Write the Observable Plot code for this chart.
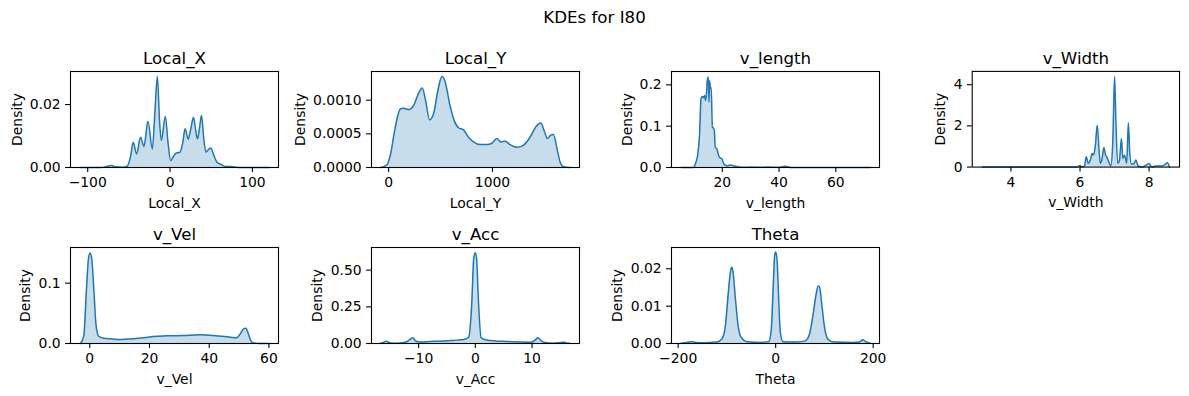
<!DOCTYPE html>
<html><head><meta charset="utf-8">
<script src="https://cdn.jsdelivr.net/npm/d3@7"></script>
<script src="https://cdn.jsdelivr.net/npm/@observablehq/plot@0.6"></script>
<style>
body{margin:0;background:#fff;}
#root{position:relative;width:1189px;height:396px;overflow:hidden;font-family:"DejaVu Sans",sans-serif;}
#suptitle{position:absolute;left:0;width:1189px;top:8px;text-align:center;font-size:16.67px;line-height:20px;color:#000;}
.panel{position:absolute;}
.panel svg{overflow:visible;}
</style></head><body>
<div id="root"><div id="suptitle">KDEs for I80</div></div>
<script>
// ---- data (x, density) ----
const localX = [[-109.4,0],[-85,0],[-78,0.0002],[-72,0.0006],[-66,0.0002],[-58,0.0001],[-52,0.0004],[-48,0.0035],[-44.7,0.0080],[-40.6,0.0043],[-35.8,0.0096],[-31.7,0.0067],[-26.8,0.0147],[-21.5,0.0059],[-18.5,0.0170],[-15.4,0.0289],[-12.8,0.0150],[-10.6,0.0086],[-5.7,0.0162],[-2.5,0.0080],[0.8,0.0022],[4,0.0035],[7,0.0045],[12.2,0.0049],[15.5,0.0080],[18.3,0.0123],[22,0.0090],[25,0.0120],[28.5,0.0160],[31,0.0120],[33.3,0.0091],[36,0.0130],[38.2,0.0165],[41,0.0090],[43.5,0.0049],[47,0.0058],[49.6,0.0062],[53,0.0040],[57,0.0017],[61.8,0.0010],[67,0.0003],[74,0.0003],[80,0.0001],[90,0],[120.7,0]];
const localY = [[-74,0],[-16,0.00004],[16,0.00018],[64,0.0006],[112,0.00087],[144,0.00088],[192,0.00086],[240,0.00092],[288,0.0011],[324,0.00118],[353,0.00102],[394,0.00071],[433,0.0008],[474,0.00114],[513,0.00135],[545,0.00127],[587,0.00095],[631,0.0007],[673,0.00059],[721,0.00056],[769,0.00045],[817,0.00038],[881,0.00034],[946,0.00034],[994,0.00036],[1042,0.00043],[1080,0.00038],[1122,0.00039],[1170,0.00034],[1234,0.0003],[1298,0.00033],[1362,0.00045],[1420,0.00061],[1465,0.00066],[1497,0.00055],[1529,0.00043],[1561,0.00048],[1587,0.00049],[1619,0.0003],[1651,0.00008],[1683,0.00001],[1747,0]];
const vLength = [[5.57,0],[9.9,0],[10.5,0.009],[11.3,0.029],[12.0,0.081],[12.5,0.166],[13.0,0.172],[13.4,0.169],[13.8,0.174],[14.1,0.162],[14.5,0.185],[14.7,0.21],[15.1,0.219],[15.3,0.158],[15.5,0.21],[15.9,0.19],[16.1,0.193],[16.5,0.098],[16.8,0.096],[17.2,0.09],[17.5,0.049],[18.1,0.045],[18.7,0.029],[19.3,0.023],[19.9,0.021],[20.5,0.009],[21.6,0.004],[22.8,0.006],[24,0.004],[25.2,0.0025],[26.3,0.001],[28,0.0005],[30,0.001],[33,0.0008],[36,0.001],[40,0.0005],[42.2,0.003],[44,0.0003],[50,0.0001],[72.1,0]];
const vWidth = [[3.17,0],[5.9,0],[6.0,0.08],[6.06,0],[6.13,0.05],[6.18,0.5],[6.24,0.18],[6.30,0.34],[6.35,0.66],[6.39,0.58],[6.44,0.98],[6.50,2.03],[6.55,0.82],[6.59,0.18],[6.64,0.42],[6.69,0.95],[6.74,0.58],[6.78,0.47],[6.83,0.26],[6.89,0.05],[6.95,1.31],[7.0,4.40],[7.04,2.11],[7.09,0.18],[7.14,0.31],[7.20,1.39],[7.24,0.42],[7.29,0.58],[7.35,0.18],[7.40,2.15],[7.44,0.66],[7.49,0.15],[7.55,0.15],[7.62,0.34],[7.68,0.05],[7.81,0],[8.0,0.16],[8.08,0],[8.19,0.05],[8.38,0.05],[8.48,0.15],[8.53,0.21],[8.59,0]];
const vVel = [[-3.1,0],[-2.0,0.013],[-1.1,0.091],[-0.45,0.14],[0.1,0.150],[0.67,0.14],[1.34,0.091],[2.1,0.030],[3.0,0.012],[4.7,0.0088],[6.9,0.0077],[10.3,0.0066],[14.7,0.0077],[18.1,0.0094],[21.4,0.0116],[25.8,0.0127],[31.4,0.0133],[37,0.0144],[41.4,0.0133],[47,0.0105],[49.2,0.0094],[50.4,0.016],[51.5,0.0243],[52.3,0.0254],[53.1,0.016],[53.9,0.005],[54.8,0.001],[57,0],[60.2,0]];
const vAcc = [[-16.7,0.002],[-16.1,0.009],[-15.7,0.016],[-15.2,0.007],[-14.4,0.002],[-13.2,0.004],[-12.0,0.014],[-11.4,0.032],[-11.0,0.039],[-10.6,0.02],[-10,0.011],[-7.9,0.014],[-6.2,0.016],[-4.4,0.020],[-3.2,0.023],[-2.05,0.027],[-1.17,0.043],[-0.59,0.305],[-0.29,0.577],[0,0.618],[0.23,0.577],[0.53,0.305],[1.0,0.043],[1.76,0.025],[2.64,0.02],[3.81,0.016],[5.57,0.014],[7.9,0.011],[9.7,0.009],[10.6,0.025],[11.0,0.039],[11.4,0.027],[12.0,0.009],[13.8,0.002],[15.2,0.007],[15.7,0.009],[16.1,0.004],[16.6,0.002]];
const theta = [[-194,0.0001],[-181.6,0.0003],[-173.4,0.0005],[-164.5,0.0003],[-147.4,0.0002],[-120.1,0.0004],[-109.9,0.0013],[-103.1,0.0048],[-97.6,0.0129],[-92.8,0.0191],[-90.1,0.0204],[-87.4,0.0191],[-82.6,0.012],[-77.1,0.0048],[-71.0,0.0017],[-58.7,0.0005],[-31.4,0.0003],[-14.3,0.0005],[-8.9,0.0039],[-5.5,0.0138],[-2.0,0.0236],[0,0.0245],[2.7,0.0227],[6.1,0.012],[9.6,0.003],[15,0.0005],[43.7,0.0004],[60.8,0.0007],[69.6,0.0026],[76.5,0.0075],[82.6,0.0129],[87.4,0.0154],[90.1,0.0151],[94.2,0.011],[99.7,0.0048],[106.5,0.0013],[118.8,0.0004],[159.7,0.0003],[172,0.0004],[178.8,0.001],[184.3,0.0005],[193.9,0.0001]];

// ---- tick labels ----
const localXTicksX = [-100, 0, 100], localXTicksY = [0, 0.02];
const localYTicksX = [0, 1000], localYTicksY = [0, 0.0005, 0.0010];
const vLengthTicksX = [20, 40, 60], vLengthTicksY = [0, 0.1, 0.2];
const vWidthTicksX = [4, 6, 8], vWidthTicksY = [0, 2, 4];
const vVelTicksX = [0, 20, 40, 60], vVelTicksY = [0, 0.1];
const vAccTicksX = [-10, 0, 10], vAccTicksY = [0, 0.25, 0.50];
const thetaTicksX = [-200, 0, 200], thetaTicksY = [0, 0.01, 0.02];

const panels = [
  {name:"Local_X", data:localX, xd:[-120.9,131.7], yd:[0,0.0305], tx:localXTicksX, ty:localXTicksY, fy:".2f", left:70, top:71, ylab:53},
  {name:"Local_Y", data:localY, xd:[-165,1838], yd:[0,0.001426], tx:localYTicksX, ty:localYTicksY, fy:".4f", left:371, top:71, ylab:71},
  {name:"v_length", data:vLength, xd:[2.1,75.4], yd:[0,0.2323], tx:vLengthTicksX, ty:vLengthTicksY, fy:".1f", left:671, top:71, ylab:44},
  {name:"v_Width", data:vWidth, xd:[2.88,8.88], yd:[0,4.645], tx:vWidthTicksX, ty:vWidthTicksY, fy:"d", left:972, top:71, ylab:32},
  {name:"v_Vel", data:vVel, xd:[-6.46,63.2], yd:[0,0.1591], tx:vVelTicksX, ty:vVelTicksY, fy:".1f", left:70, top:247, ylab:45},
  {name:"v_Acc", data:vAcc, xd:[-18.3,18.36], yd:[0,0.6545], tx:vAccTicksX, ty:vAccTicksY, fy:".2f", left:371, top:247, ylab:54},
  {name:"Theta", data:theta, xd:[-213.7,213], yd:[0,0.0257], tx:thetaTicksX, ty:thetaTicksY, fy:".2f", left:671, top:247, ylab:54}
];

const ML = 80, MT = 30, MR = 10, MB = 50, FW = 208, FH = 96;
const blue = "#1f77b4";
const root = document.getElementById("root");
for (const p of panels) {
  const chart = Plot.plot({
    width: ML + FW + MR, height: MT + FH + MB,
    marginLeft: ML, marginRight: MR, marginTop: MT, marginBottom: MB,
    style: {fontFamily: "DejaVu Sans, sans-serif", fontSize: "13.9px", background: "transparent", color: "#000"},
    x: {domain: p.xd, nice: false},
    y: {domain: p.yd, nice: false},
    marks: [
      Plot.areaY(p.data, {x: d => d[0], y: d => d[1], fill: blue, fillOpacity: 0.25, curve: "monotone-x"}),
      Plot.lineY(p.data, {x: d => d[0], y: d => d[1], stroke: blue, strokeWidth: 1.5, curve: "monotone-x"}),
      Plot.frame({stroke: "#000", strokeWidth: 1.1}),
      Plot.axisX({ticks: p.tx, tickFormat: d3.format("d"), tickSize: 4.9, tickPadding: 4.9, fontSize: 13.9, label: null, strokeWidth: 1.1}),
      Plot.axisY({ticks: p.ty, tickFormat: d3.format(p.fy), tickSize: 4.9, tickPadding: 4.9, fontSize: 13.9, label: null, strokeWidth: 1.1}),
      Plot.text([p.name], {frameAnchor: "top", dy: -12.7, lineAnchor: "middle", fontSize: 16.67, fill: "#000"}),
      Plot.text([p.name], {frameAnchor: "bottom", dy: 36, lineAnchor: "middle", fontSize: 13.9, fill: "#000"}),
      Plot.text(["Density"], {frameAnchor: "left", dx: -p.ylab, rotate: -90, textAnchor: "middle", lineAnchor: "middle", fontSize: 13.9, fill: "#000"})
    ]
  });
  const div = document.createElement("div");
  div.className = "panel";
  div.style.left = (p.left - ML) + "px";
  div.style.top = (p.top - MT) + "px";
  div.appendChild(chart);
  root.appendChild(div);
}
</script>
</body></html>
